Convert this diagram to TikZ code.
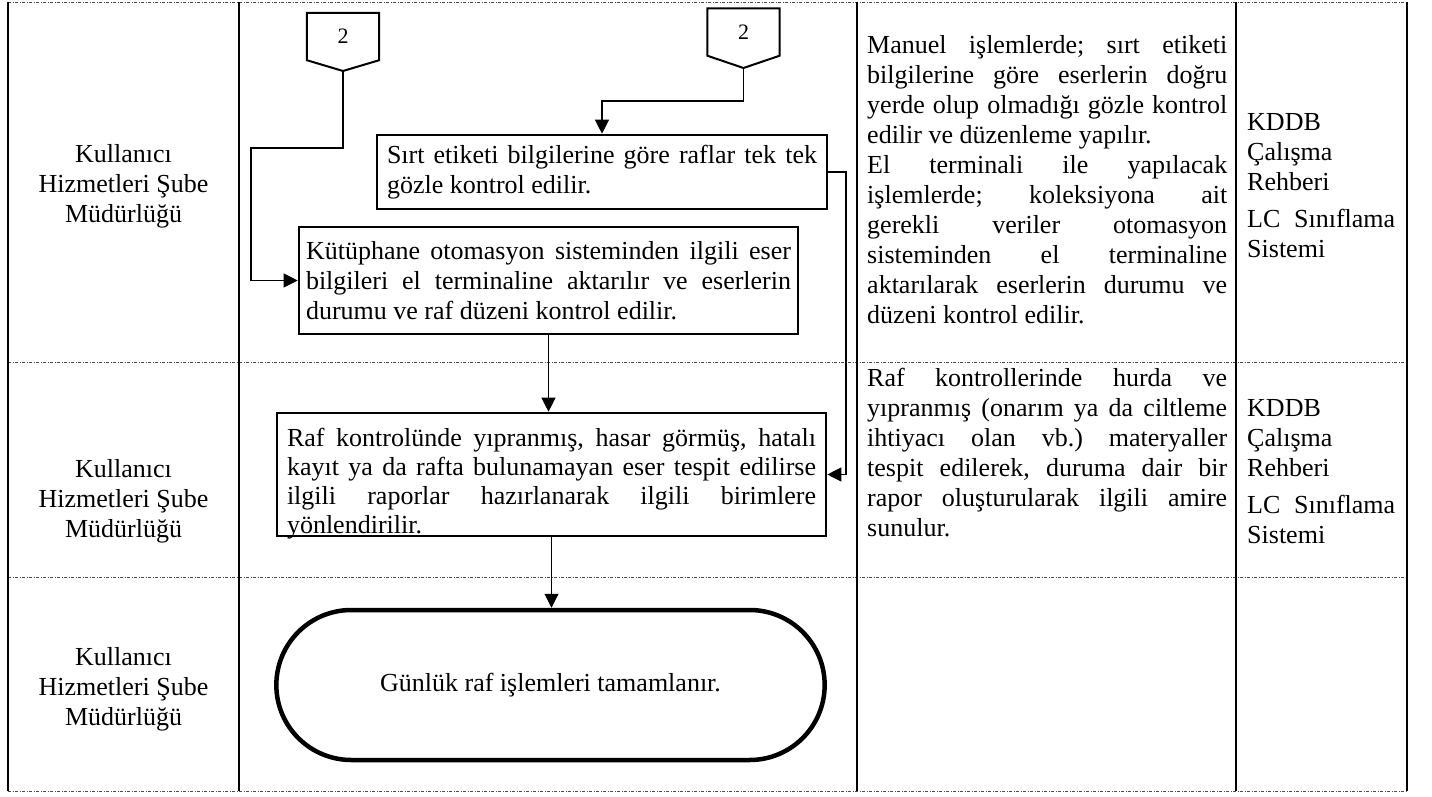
\documentclass[tikz,border=0pt]{standalone}
\usepackage{fontspec}
\setmainfont{Liberation Serif}
\usepackage{tikz}
\usetikzlibrary{positioning,arrows.meta,shapes.misc}
\setlength{\parindent}{0pt}
\frenchspacing
\hyphenpenalty=10000 \exhyphenpenalty=10000
\tolerance=10000 \hbadness=10000

\begin{document}
\begin{tikzpicture}[
    x=1pt, y=-1pt,
    font=\fontsize{26}{30}\selectfont,
    stepbox/.style   ={draw, line width=2.6pt, rectangle, inner ysep=0pt, align=justify},
    endbox/.style    ={draw, line width=4.5pt, rounded rectangle, minimum width=555pt, minimum height=150pt},
    pagemark/.style  ={rectangle, minimum width=72pt, minimum height=47pt, inner sep=0pt, font=\fontsize{22}{26}\selectfont},
    pageline/.style  ={line width=2pt, line join=miter},
    flowarrow/.style ={line width=1.1pt, -{Triangle[length=14pt, width=14pt]}},
    lanelabel/.style ={anchor=north, align=center, inner sep=0pt},
    notetext/.style  ={anchor=north west, inner sep=0pt, text width=360pt, align=justify},
    reftext/.style   ={anchor=north west, inner sep=0pt, text width=148pt, align=justify},
    rowline/.style   ={black!70, line width=0.9pt, dash pattern=on 3pt off 1.5pt on 1pt off 1.5pt},
    colline/.style   ={line width=2pt},
  ]
  \useasboundingbox (0,0) rectangle (1432,797);

  % ---- table frame: rows top-to-bottom, columns left-to-right ----
  \def\yTop{2} \def\yA{362} \def\yB{577} \def\yBot{791}
  \def\xL{8} \def\xA{239} \def\xB{857} \def\xC{1236} \def\xR{1407}
  \foreach \y in {\yTop,\yA,\yB,\yBot}
    \draw[rowline] (\xL,\y) -- (\xR,\y);
  \foreach \x in {\xL,\xA,\xB,\xC,\xR}
    \draw[colline] (\x,\yTop) -- (\x,\yBot);

  % ---- responsible unit, one per row ----
  \foreach \y/\n in {144.5/laneA, 459.5/laneB, 647.5/laneC}
    \node[lanelabel] (\n) at (123.5,\y) {Kullanıcı\\Hizmetleri Şube\\Müdürlüğü};

  % ---- off-page connectors ----
  \node[pagemark] (pageA) at (343,36.5) {2};
  \coordinate (pageAtip) at (343,71);
  \draw[pageline] (pageA.north west) -- (pageA.north east) -- (pageA.south east) -- (pageAtip) -- (pageA.south west) -- cycle;
  \node[pagemark] (pageB) at (743.5,32) {2};
  \coordinate (pageBtip) at (743.5,68);
  \draw[pageline] (pageB.north west) -- (pageB.north east) -- (pageB.south east) -- (pageBtip) -- (pageB.south west) -- cycle;

  % ---- process steps ----
  \node[stepbox, text width=430pt, inner xsep=10pt, minimum height=74pt] (check) at (602,172)
    {Sırt etiketi bilgilerine göre raflar tek tek\linebreak gözle kontrol edilir.};
  \node[stepbox, text width=485pt, inner xsep=7pt, minimum height=107pt] (transfer) at (548.5,280.5)
    {Kütüphane otomasyon sisteminden ilgili eser\linebreak bilgileri el terminaline aktarılır ve eserlerin\linebreak durumu ve raf düzeni kontrol edilir.};
  \node[stepbox, minimum width=549pt, minimum height=123pt] (report) at (551.5,474.5) {};
  \node[anchor=north, inner sep=0pt, text width=529pt, align=justify, font=\fontsize{26}{29}\selectfont] (reporttext) at (551.5,428)
    {Raf kontrolünde yıpranmış, hasar görmüş, hatalı\linebreak kayıt ya da rafta bulunamayan eser tespit edilirse\linebreak ilgili raporlar hazırlanarak ilgili birimlere\linebreak yönlendirilir.};
  \node[endbox] (done) at (550.5,685) {Günlük raf işlemleri tamamlanır.};

  % ---- connectors ----
  \coordinate (bendA) at (251,148);
  \coordinate (bendB) at (602,101);
  \coordinate (bendC) at (846,172);
  \draw[flowarrow] (pageAtip) |- (bendA) |- (transfer.west);
  \draw[flowarrow] (pageBtip) |- (bendB) -- (check.north);
  \draw[flowarrow] (check.east) -- (bendC) |- (report.east);
  \draw[flowarrow] (transfer.south) -- (transfer.south |- report.north);
  \draw[flowarrow] (report.south) -- (report.south |- done.north);

  % ---- explanations ----
  \node[notetext] (noteA) at (867,35)
    {Manuel işlemlerde; sırt etiketi\linebreak bilgilerine göre eserlerin doğru\linebreak yerde olup olmadığı gözle kontrol\linebreak edilir ve düzenleme yapılır.\par
     El terminali ile yapılacak\linebreak işlemlerde; koleksiyona ait\linebreak gerekli veriler otomasyon\linebreak sisteminden el terminaline\linebreak aktarılarak eserlerin durumu ve\linebreak düzeni kontrol edilir.};
  \node[notetext] (noteB) at (867,368)
    {Raf kontrollerinde hurda ve\linebreak yıpranmış (onarım ya da ciltleme\linebreak ihtiyacı olan vb.) materyaller\linebreak tespit edilerek, duruma dair bir\linebreak rapor oluşturularak ilgili amire\linebreak sunulur.};

  % ---- reference documents ----
  \node[reftext] (refA) at (1247,113) {KDDB\linebreak Çalışma\linebreak Rehberi\par\vspace{7pt}LC Sınıflama\linebreak Sistemi};
  \node[reftext] (refB) at (1247,399) {KDDB\linebreak Çalışma\linebreak Rehberi\par\vspace{7pt}LC Sınıflama\linebreak Sistemi};
\end{tikzpicture}
\end{document}
